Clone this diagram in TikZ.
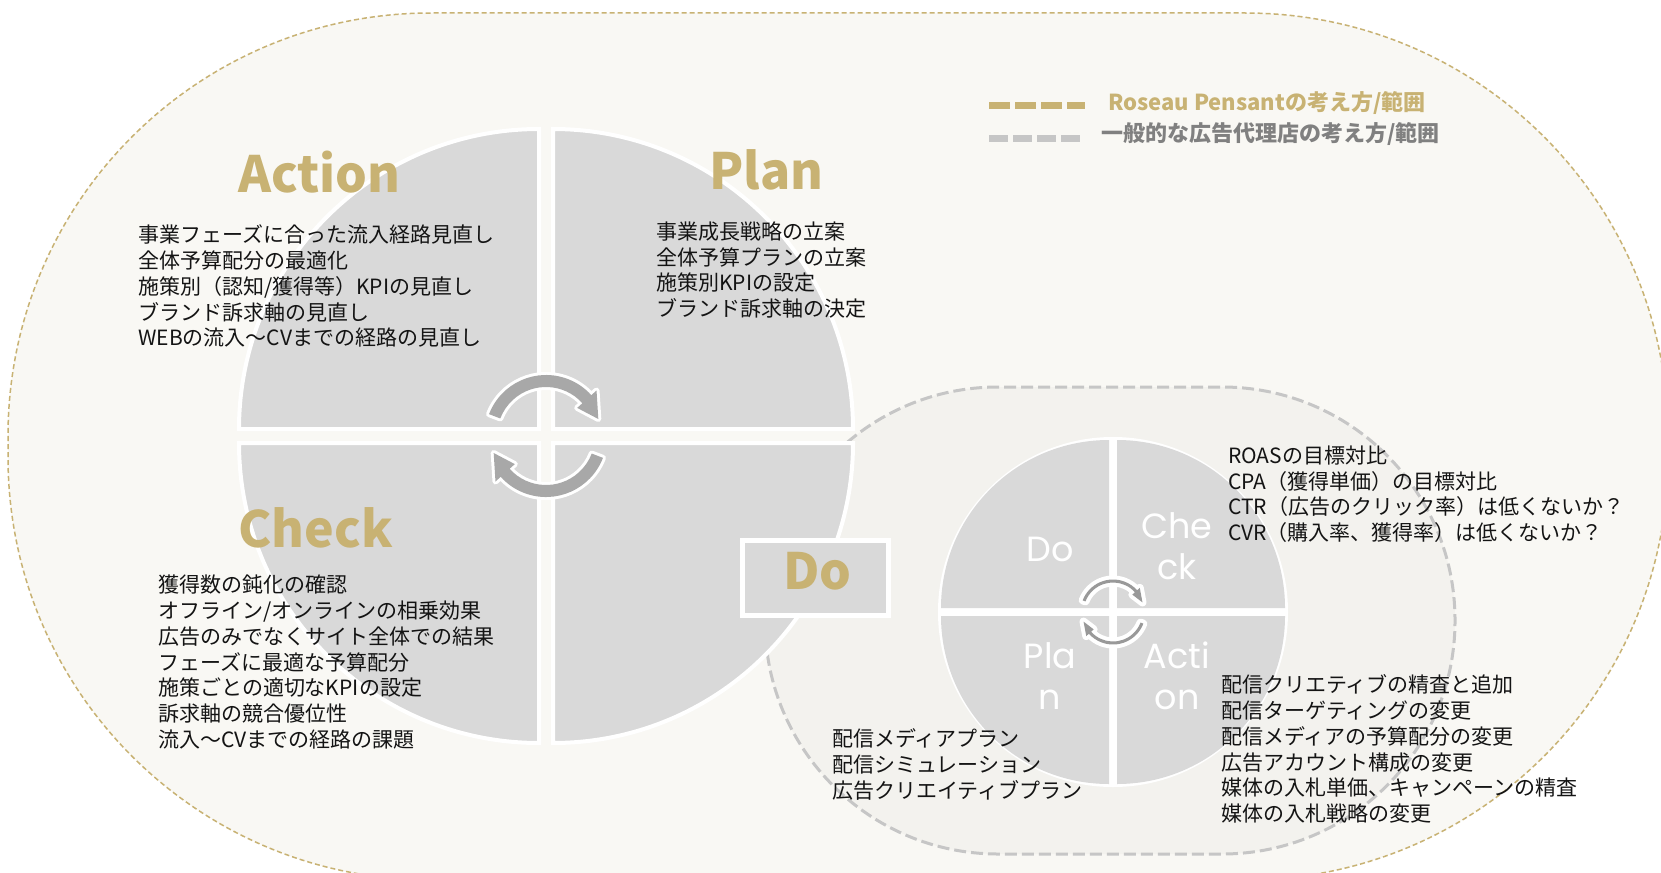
\documentclass[tikz,border=0pt]{standalone}
\usepackage{fontspec}
\setmainfont{Noto Sans CJK JP}
\newfontfamily\geofont{Poppins}
\usetikzlibrary{calc}
\definecolor{gold}{HTML}{C8B273}
\definecolor{cream}{HTML}{F9F8F4}
\definecolor{stad}{HTML}{F3F2EE}
\definecolor{quadgray}{HTML}{D9D9D9}
\definecolor{arrowgray}{HTML}{A8A8A8}
\definecolor{dashgray}{HTML}{C6C6C6}
\definecolor{legendgray}{HTML}{808080}
\definecolor{ink}{HTML}{141414}
\newcommand\cycarrows[8]{%
 \path[preaction={draw=white,line width=#8,line join=round}, fill=#7]
  ($(#1)+(159:#3pt)$) arc[start angle=159, end angle=42, radius=#3pt]
  -- ($(#1)+(42:#5pt)$) -- ($(#1)+(18:#6pt)$) -- ($(#1)+(42:#4pt)$)
  -- ($(#1)+(42:#2pt)$) arc[start angle=42, end angle=159, radius=#2pt] -- cycle;
 \path[preaction={draw=white,line width=#8,line join=round}, fill=#7]
  ($(#1)+(-21:#3pt)$) arc[start angle=-21, end angle=-138, radius=#3pt]
  -- ($(#1)+(-138:#5pt)$) -- ($(#1)+(-162:#6pt)$) -- ($(#1)+(-138:#4pt)$)
  -- ($(#1)+(-138:#2pt)$) arc[start angle=-138, end angle=-21, radius=#2pt] -- cycle;
}
\begin{document}
\begin{tikzpicture}[x=1pt,y=-1pt,
  quadrant/.style={fill=quadgray, draw=white, line width=4pt},
  smallquad/.style={fill=quadgray},
  body/.style={anchor=north west, inner sep=0pt, align=left, text=ink, font=\fontsize{21}{25.8}\selectfont},
  phase/.style={anchor=base west, inner sep=0pt, text=gold, font=\bfseries\fontsize{50}{50}\selectfont},
  minilabel/.style={anchor=north, inner sep=0pt, align=center, text=white, font=\geofont\fontsize{35}{41}\selectfont},
  legendtext/.style={anchor=base west, inner sep=0pt, font=\bfseries\fontsize{22}{22}\selectfont},
  dobox/.style={fill=quadgray, draw=white, line width=5pt, minimum width=146pt, minimum height=75pt, inner sep=0pt},
]
\useasboundingbox (0,0) rectangle (1661,872);
\fill[white] (0,0) rectangle (1661,872);
% outer region (Roseau Pensant)
\path[fill=cream, draw=gold, line width=1.5pt, dash pattern=on 5pt off 3pt, rounded corners=423pt] (8,13) rectangle (1668,880);
% inner region (general agency)
\path[fill=stad, draw=dashgray, line width=3pt, dash pattern=on 12pt off 5pt, rounded corners=233pt] (765,387) rectangle (1455,854);
% big PDCA circle
\coordinate (C1) at (546,436);
\path[quadrant] (539,429) -- ++(-300,0) arc[start angle=180,end angle=90,radius=300pt] -- cycle;
\path[quadrant] (553,429) -- ++(300,0) arc[start angle=0,end angle=90,radius=300pt] -- cycle;
\path[quadrant] (539,443) -- ++(-300,0) arc[start angle=180,end angle=270,radius=300pt] -- cycle;
\path[quadrant] (553,443) -- ++(300,0) arc[start angle=0,end angle=-90,radius=300pt] -- cycle;
\cycarrows{C1}{49}{61}{42}{68}{55}{arrowgray}{6pt}
% Do box
\node[dobox] (dobox) at (815.5,578) {};
\node[phase] (dolabel) at (783,589) {Do};
% small PDCA circle
\coordinate (C2) at (1113,612);
\fill[white] (C2) circle[radius=175pt];
\path[smallquad] (1109,608) -- ++(-168,0) arc[start angle=180,end angle=90,radius=168pt] -- cycle;
\path[smallquad] (1117,608) -- ++(168,0) arc[start angle=0,end angle=90,radius=168pt] -- cycle;
\path[smallquad] (1109,616) -- ++(-168,0) arc[start angle=180,end angle=270,radius=168pt] -- cycle;
\path[smallquad] (1117,616) -- ++(168,0) arc[start angle=0,end angle=-90,radius=168pt] -- cycle;
\cycarrows{C2}{29.5}{32.5}{26}{36}{31}{gray!80}{8pt}
\node[minilabel] (sdo) at (1050,532.3) {\strut Do};
\node[minilabel] (scheck) at (1177,509.3) {\strut Che\\ck};
\node[minilabel] (splan) at (1050,639.3) {\strut Pla\\n};
\node[minilabel] (saction) at (1177,639.3) {\strut Acti\\on};
% phase labels
\node[phase] (action) at (238,192) {Action};
\node[phase] (plan) at (709,189) {Plan};
\node[phase] (check) at (238,547) {Check};
% body texts
\node[body] (actiontxt) at (138,224.4) {\strut 事業フェーズに合った流入経路見直し\\全体予算配分の最適化\\施策別（認知/獲得等）KPIの見直し\\ブランド訴求軸の見直し\\WEBの流入～CVまでの経路の見直し};
\node[body] (plantxt) at (656,221) {\strut 事業成長戦略の立案\\全体予算プランの立案\\施策別KPIの設定\\ブランド訴求軸の決定};
\node[body] (checktxt) at (158,574.5) {\strut 獲得数の鈍化の確認\\オフライン/オンラインの相乗効果\\広告のみでなくサイト全体での結果\\フェーズに最適な予算配分\\施策ごとの適切なKPIの設定\\訴求軸の競合優位性\\流入～CVまでの経路の課題};
\node[body] (scheckt) at (1228,445) {\strut ROASの目標対比\\CPA（獲得単価）の目標対比\\CTR（広告のクリック率）は低くないか？\\CVR（購入率、獲得率）は低くないか？};
\node[body] (sactiont) at (1221,674.5) {\strut 配信クリエティブの精査と追加\\配信ターゲティングの変更\\配信メディアの予算配分の変更\\広告アカウント構成の変更\\媒体の入札単価、キャンペーンの精査\\媒体の入札戦略の変更};
\node[body] (splant) at (832,728.5) {\strut 配信メディアプラン\\配信シミュレーション\\広告クリエイティブプラン};
% legend
\coordinate (goldA) at (989,106); \coordinate (goldB) at (1085,106);
\draw[gold, line width=7pt, dash pattern=on 21pt off 5pt] (goldA) -- (goldB);
\coordinate (grayA) at (989,138); \coordinate (grayB) at (1081,138);
\draw[dashgray, line width=7pt, dash pattern=on 19pt off 5pt] (grayA) -- (grayB);
\node[legendtext, text=gold] (lg1) at (1108,111) {Roseau Pensantの考え方/範囲};
\node[legendtext, text=legendgray] (lg2) at (1101,141) {一般的な広告代理店の考え方/範囲};
\end{tikzpicture}
\end{document}
